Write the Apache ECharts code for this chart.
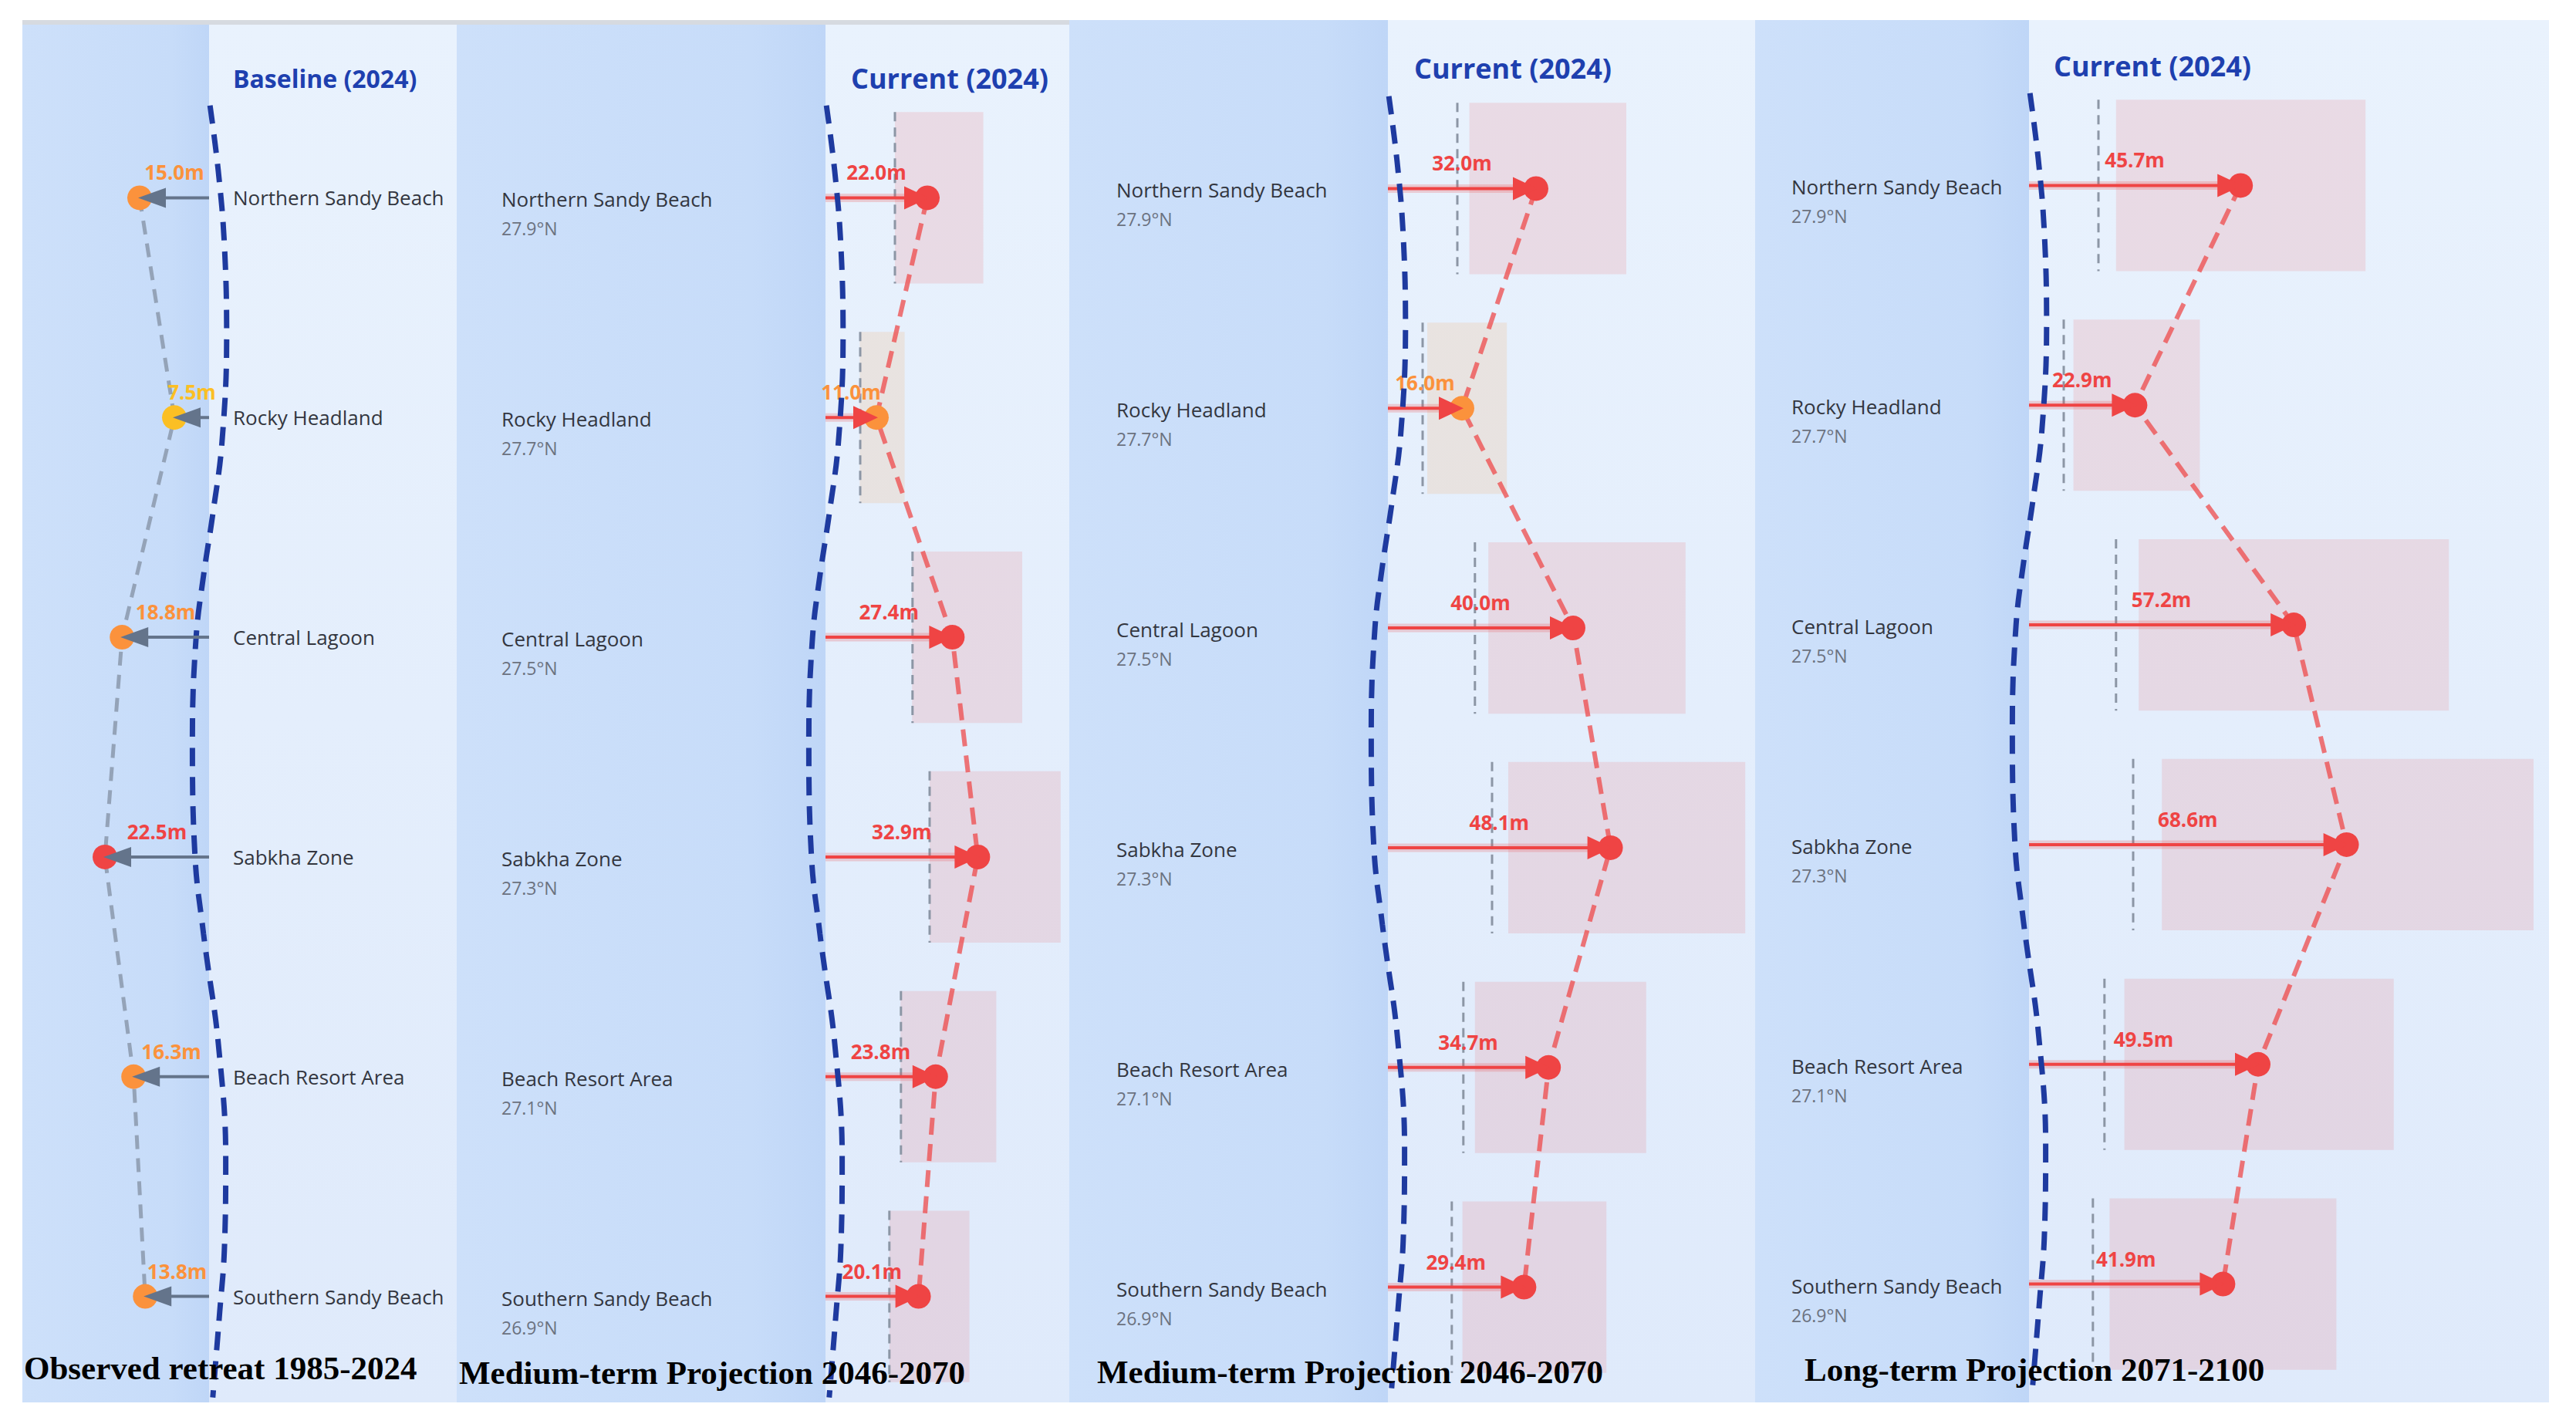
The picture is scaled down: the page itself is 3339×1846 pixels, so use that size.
<!DOCTYPE html>
<html>
<head>
<meta charset="utf-8">
<title>Shoreline retreat</title>
<script src="https://cdn.jsdelivr.net/npm/echarts@6/dist/echarts.min.js"></script>
<style>
  html, body { margin: 0; padding: 0; background: #fff; }
  #chart { width: 3339px; height: 1846px; }
</style>
</head>
<body>
<div id="chart"></div>
<script>
const sites = ['Northern Sandy Beach', 'Rocky Headland', 'Central Lagoon', 'Sabkha Zone', 'Beach Resort Area', 'Southern Sandy Beach']
const latitudes = ['27.9°N', '27.7°N', '27.5°N', '27.3°N', '27.1°N', '26.9°N']

// observed retreat 1985-2024 (m)
const observed = [15.0, 7.5, 18.8, 22.5, 16.3, 13.8]

// medium-term projection 2046-2070 (first view) + range box
const medA = [22.0, 11.0, 27.4, 32.9, 23.8, 20.1]
const medALow = [15.0, 7.4, 18.7, 22.5, 16.2, 13.8]
const medAHigh = [34.1, 17.1, 42.5, 50.8, 36.9, 31.1]

// medium-term projection 2046-2070 (second view)
const medB = [32.0, 16.0, 40.0, 48.1, 34.7, 29.4]
const medBLow = [17.6, 8.5, 21.7, 26.0, 18.8, 16.1]
const medBHigh = [51.5, 25.7, 64.3, 77.2, 55.8, 47.2]

// long-term projection 2071-2100
const longTerm = [45.7, 22.9, 57.2, 68.6, 49.5, 41.9]
const longLow = [18.8, 9.6, 23.7, 28.7, 20.6, 17.4]
const longHigh = [72.7, 36.9, 90.7, 109.0, 78.8, 66.4]

// 2024 shoreline wiggle: position along coast (site units) and offset east (m)
const shorePos = [-0.42, -0.12, 0.21, 0.63, 1.11, 1.44, 1.72, 2.0, 2.46, 3.01, 3.35, 3.46, 3.85, 4.37, 4.79, 5.07, 5.46]
const shoreOffset = [0.2, 2.0, 3.3, 3.8, 2.8, 0.8, -1.2, -2.8, -3.6, -3.0, -1.2, -0.5, 2.0, 3.6, 3.3, 2.3, 0.8]

const FONT = '"Open Sans", "Noto Sans", sans-serif'
const PX_PER_M = 6
const BOTTOM = 1818

const panels = [
  { left: 29, right: 592, top: 30, coast: 271, gridLeft: 31, gridTop: 114, min: -10, max: 40, inverse: true, labelX: 302,
    head: 'Baseline (2024)', headX: 302, headY: 101, headSize: 32,
    foot: 'Observed retreat 1985-2024', footX: 31, footY: 1773 },
  { left: 592, right: 1386, top: 30, coast: 1070, gridLeft: 1010, gridTop: 114, min: -10, max: 53, labelX: 650,
    head: 'Current (2024)', headX: 1103, headY: 101, headSize: 36,
    foot: 'Medium-term Projection 2046-2070', footX: 595, footY: 1779,
    values: medA, low: medALow, high: medAHigh },
  { left: 1386, right: 2275, top: 26, coast: 1799, gridLeft: 1739, gridTop: 102, min: -10, max: 79, labelX: 1447,
    head: 'Current (2024)', headX: 1833, headY: 88, headSize: 36,
    foot: 'Medium-term Projection 2046-2070', footX: 1422, footY: 1778,
    values: medB, low: medBLow, high: medBHigh },
  { left: 2275, right: 3304, top: 26, coast: 2630, gridLeft: 2570, gridTop: 98, min: -10, max: 112, labelX: 2322,
    head: 'Current (2024)', headX: 2662, headY: 85, headSize: 36,
    foot: 'Long-term Projection 2071-2100', footX: 2339, footY: 1775,
    values: longTerm, low: longLow, high: longHigh }
]

const colorFor = v => v < 10 ? '#fbbf24' : v < 20 ? '#fb923c' : '#ef4444'
const rangeFill = v => v < 20 ? 'rgba(251,146,60,0.14)' : 'rgba(239,68,68,0.13)'

function arrowRenderer(opt) {
  return function (params, api) {
    const idx = api.value(0)
    const v = api.value(1)
    const s = api.coord([0, idx])
    const e = api.coord([v, idx])
    const dir = e[0] > s[0] ? 1 : -1
    const col = colorFor(v)
    const kids = []
    if (opt.halo) {
      kids.push({ type: 'line', shape: { x1: s[0], y1: s[1], x2: e[0] - dir * 20, y2: e[1] },
        style: { stroke: 'rgba(239,68,68,0.22)', lineWidth: 11 } })
    }
    kids.push({ type: 'line', shape: { x1: s[0], y1: s[1], x2: e[0] - dir * 20, y2: e[1] },
      style: { stroke: opt.color, lineWidth: opt.width } })
    kids.push({ type: 'circle', shape: { cx: e[0], cy: e[1], r: 16 }, style: { fill: col } })
    kids.push({ type: 'polygon', shape: { points: [
      [e[0] + dir * 2, e[1]], [e[0] - dir * opt.headLen, e[1] - opt.headHalf], [e[0] - dir * opt.headLen, e[1] + opt.headHalf]
    ] }, style: { fill: opt.color } })
    kids.push({ type: 'text', style: {
      text: v.toFixed(1) + 'm', x: (s[0] + e[0]) / 2, y: e[1] - 33,
      align: 'center', verticalAlign: 'middle', fill: col,
      fontFamily: FONT, fontWeight: 'bold', fontSize: 26
    } })
    return { type: 'group', children: kids }
  }
}

function rangeRenderer(params, api) {
  const idx = api.value(0)
  const half = api.size([0, 1])[1] * 0.39
  const a = api.coord([api.value(1), idx])
  const b = api.coord([api.value(2), idx])
  const o = api.coord([api.value(3), idx])
  return { type: 'group', children: [
    { type: 'rect', shape: { x: a[0], y: a[1] - half, width: b[0] - a[0], height: half * 2 },
      style: { fill: rangeFill(api.value(4)) } },
    { type: 'line', shape: { x1: o[0], y1: o[1] - half, x2: o[0], y2: o[1] + half },
      style: { stroke: '#8c96a5', lineWidth: 3, lineDash: [12, 8] } }
  ] }
}

const grid = [], xAxis = [], yAxis = [], series = [], elements = []

panels.forEach((p, g) => {
  grid.push({ left: p.gridLeft, top: p.gridTop, width: (p.max - p.min) * PX_PER_M, height: 1709 })
  xAxis.push({ type: 'value', gridIndex: g, min: p.min, max: p.max, inverse: !!p.inverse, show: false })
  const labelCfg = g === 0
    ? { fontSize: 26, fontFamily: FONT, color: '#33363f' }
    : {
        formatter: (val, i) => '{sp| }\n{name|' + val + '}\n{lat|' + latitudes[i] + '}',
        rich: {
          sp: { fontSize: 10, lineHeight: 42 },
          name: { fontSize: 26, fontFamily: FONT, color: '#33363f', lineHeight: 38 },
          lat: { fontSize: 23, fontFamily: FONT, color: '#6b7280', lineHeight: 38 }
        }
      }
  yAxis.push({
    type: 'category', gridIndex: g, data: sites, inverse: true,
    axisLine: { show: false }, axisTick: { show: false }, splitLine: { show: false },
    axisLabel: Object.assign({ interval: 0, align: 'left', margin: p.gridLeft - p.labelX }, labelCfg)
  })
  yAxis.push({ type: 'value', gridIndex: g, min: -0.5, max: 5.5, inverse: true, show: false })

  const catY = 2 * g, valY = 2 * g + 1
  const sign = p.inverse ? -1 : 1

  // 2024 shoreline
  series.push({
    type: 'line', xAxisIndex: g, yAxisIndex: valY, z: g === 0 ? 3 : 6,
    data: shorePos.map((pos, i) => [sign * shoreOffset[i], pos]),
    smooth: 0.4, symbol: 'none', silent: true,
    lineStyle: { color: '#1e3a9f', width: 7, type: [24, 14] }
  })

  if (g === 0) {
    series.push({
      type: 'line', xAxisIndex: g, yAxisIndex: catY, z: 4, data: observed,
      symbol: 'none', silent: true,
      lineStyle: { color: '#94a3b8', width: 5, type: [18, 12] }
    })
    series.push({
      type: 'custom', xAxisIndex: g, yAxisIndex: catY, z: 5,
      data: observed.map((v, i) => [i, v]), encode: { x: 1, y: 0 },
      renderItem: arrowRenderer({ color: '#64748b', width: 4, headLen: 34, headHalf: 13, halo: false })
    })
  } else {
    series.push({
      type: 'custom', xAxisIndex: g, yAxisIndex: catY, z: 2,
      data: p.values.map((v, i) => [i, p.low[i], p.high[i], observed[i], v]), encode: { x: [1, 2, 3], y: 0 },
      renderItem: rangeRenderer
    })
    series.push({
      type: 'line', xAxisIndex: g, yAxisIndex: catY, z: 3, data: p.values,
      symbol: 'none', silent: true,
      lineStyle: { color: 'rgba(239,68,68,0.72)', width: 6, type: [22, 12] }
    })
    series.push({
      type: 'custom', xAxisIndex: g, yAxisIndex: catY, z: 5,
      data: p.values.map((v, i) => [i, v]), encode: { x: 1, y: 0 },
      renderItem: arrowRenderer({ color: '#ef4444', width: 4, headLen: 30, headHalf: 15, halo: true })
    })
  }

  // panel backgrounds: sea side and land side
  elements.push({
    type: 'rect', z: -10, shape: { x: p.left, y: p.top, width: p.coast - p.left, height: BOTTOM - p.top },
    style: { fill: new echarts.graphic.LinearGradient(0, 0, 1, 0, [
      { offset: 0, color: '#cde0fa' }, { offset: 0.8, color: '#c7dcf9' }, { offset: 1, color: '#bfd6f7' }
    ]) }
  })
  elements.push({
    type: 'rect', z: -10, shape: { x: p.coast, y: p.top, width: p.right - p.coast, height: BOTTOM - p.top },
    style: { fill: new echarts.graphic.LinearGradient(0, 0, 0, 1, [
      { offset: 0, color: '#e9f2fd' }, { offset: 1, color: '#dfeafb' }
    ]) }
  })
  elements.push({
    type: 'text', z: 10, style: {
      text: p.head, x: p.headX, y: p.headY, align: 'left', verticalAlign: 'middle',
      fill: '#1e40af', fontFamily: FONT, fontWeight: 'bold', fontSize: p.headSize
    }
  })
  elements.push({
    type: 'text', z: 10, style: {
      text: p.foot, x: p.footX, y: p.footY, align: 'left', verticalAlign: 'middle',
      fill: '#000', fontFamily: '"Liberation Serif", "DejaVu Serif", serif', fontWeight: 'bold', fontSize: 43
    }
  })
})

elements.push({ type: 'rect', z: -5, shape: { x: 29, y: 26, width: 1357, height: 6 }, style: { fill: '#d6dae0' } })

const chart = echarts.init(document.getElementById('chart'), null, { renderer: 'svg' })
chart.setOption({
  animation: false,
  backgroundColor: '#ffffff',
  grid, xAxis, yAxis, series,
  graphic: { elements }
})
</script>
</body>
</html>
